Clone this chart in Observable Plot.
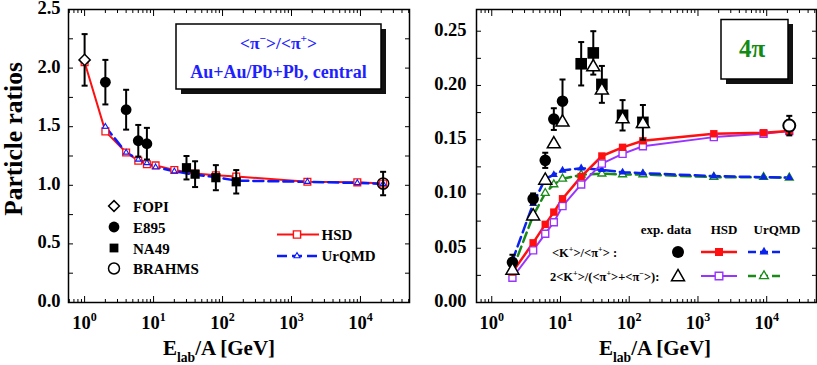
<!DOCTYPE html>
<html><head><meta charset="utf-8">
<script src="https://cdn.jsdelivr.net/npm/d3@7"></script>
<script src="https://cdn.jsdelivr.net/npm/@observablehq/plot@0.6"></script>
<style>
body{margin:0;background:#fff;}
#wrap{position:relative;width:817px;height:365px;overflow:hidden;background:#fff;}
#wrap svg{position:absolute;top:0;overflow:visible;}
</style></head><body><div id="wrap"></div>
<script>
// ---------------- data: left panel  <pi->/<pi+> ----------------
const L_fopi_x = [1],            L_fopi_y = [2.07],   L_fopi_err = [0.22];
const L_e895_x = [2, 4, 6, 8],   L_e895_y = [1.88, 1.645, 1.38, 1.355], L_e895_err = [0.19, 0.17, 0.135, 0.135];
const L_na49_x = [30, 40, 80, 158], L_na49_y = [1.15, 1.095, 1.065, 1.03], L_na49_err = [0.10, 0.11, 0.107, 0.10];
const L_brahms_x = [21300],      L_brahms_y = [1.015], L_brahms_err = [0.10];
const L_hsd_x = [1, 2, 4, 6, 8, 10.7, 20, 40, 80, 158, 1700, 9000, 21300];
const L_hsd_y = [2.05, 1.46, 1.28, 1.21, 1.18, 1.17, 1.13, 1.10, 1.085, 1.075, 1.03, 1.025, 1.015];
const L_urqmd_x = [2, 4, 6, 8, 10.7, 20, 40, 80, 158, 1700, 9000, 21300];
const L_urqmd_y = [1.50, 1.28, 1.22, 1.19, 1.155, 1.12, 1.09, 1.07, 1.04, 1.03, 1.02, 1.012];

// ---------------- data: right panel  K/pi ----------------
const R_model_x   = [2, 4, 6, 8, 10.7, 20, 40, 80, 158, 1700, 9000, 21300];
const R_hsd_kpi   = [0.028, 0.055, 0.072, 0.0833, 0.0956, 0.116, 0.135, 0.143, 0.149, 0.1555, 0.1564, 0.158];
const R_hsd_2k    = [0.0228, 0.048, 0.0633, 0.074, 0.0888, 0.1088, 0.128, 0.137, 0.144, 0.1524, 0.1555, 0.158];
const R_urqmd_kpi = [0.0387, 0.091, 0.114, 0.1177, 0.1217, 0.1238, 0.1223, 0.120, 0.1192, 0.1165, 0.1155, 0.115];
const R_urqmd_2k  = [0.030, 0.080, 0.1008, 0.1088, 0.114, 0.1177, 0.1187, 0.118, 0.118, 0.1155, 0.1155, 0.115];
const R_ags_x = [2, 4, 6, 8, 10.7], R_ags_y = [0.037, 0.0955, 0.131, 0.169, 0.1855], R_ags_err = [0.007, 0.005, 0.007, 0.01, 0.02];
const R_na49_x = [20, 30, 40, 80, 158], R_na49_y = [0.22, 0.23, 0.201, 0.1725, 0.166], R_na49_err = [0.02, 0.02, 0.017, 0.014, 0.016];
const R_brahms_x = [21300], R_brahms_y = [0.163], R_brahms_err = [0.009];
const R_exp2k_x = [2, 4, 6, 8, 10.7, 30, 40, 80, 158];
const R_exp2k_y = [0.0295, 0.0795, 0.1125, 0.146, 0.166, 0.217, 0.1955, 0.169, 0.1647];

// ---------------- ticks ----------------
const xMajor = [1, 10, 100, 1000, 10000];
const xMinorAll = [];
for (const d of [0.1, 1, 10, 100, 1000, 10000]) for (const m of [2,3,4,5,6,7,8,9]) xMinorAll.push(d * m);
const L_yLabels = [0, 0.5, 1.0, 1.5, 2.0, 2.5];
const L_yTicks  = [0, 0.25, 0.5, 0.75, 1.0, 1.25, 1.5, 1.75, 2.0, 2.25, 2.5];
const R_yLabels = [0, 0.05, 0.10, 0.15, 0.20, 0.25];
const R_yTicks  = [0, 0.025, 0.05, 0.075, 0.10, 0.125, 0.15, 0.175, 0.20, 0.225, 0.25];

const zip = (xs, ys, es) => xs.map((x, i) => ({x, y: ys[i], e: es ? es[i] : 0}));

// ---------------- symbols (r = half size) ----------------
const rOf = s => Math.sqrt(s / Math.PI);
const SYM = {
  circle:  {draw(c, s){ const r = rOf(s); c.moveTo(r, 0); c.arc(0, 0, r, 0, 2*Math.PI); }},
  square:  {draw(c, s){ const r = rOf(s); c.rect(-r, -r, 2*r, 2*r); }},
  diamond: {draw(c, s){ const r = rOf(s); c.moveTo(0,-r); c.lineTo(r,0); c.lineTo(0,r); c.lineTo(-r,0); c.closePath(); }},
  triangle:{draw(c, s){ const r = rOf(s); const h = r*1.1547, b = r*0.5774; c.moveTo(0,-h); c.lineTo(r,b); c.lineTo(-r,b); c.closePath(); }},
  cap:     {draw(c, s){ const r = rOf(s); c.moveTo(-r, 0); c.lineTo(r, 0); }}
};

const FONT = "Liberation Serif, Times New Roman, serif";
const TICKFS = 18.5;

function axes(domain, yTicks, yLabels, yFmt, yPad) {
  const xMinor = xMinorAll.filter(v => v >= domain[0] && v <= domain[1]);
  return [
    Plot.axisX({ticks: xMinor, anchor: "bottom", tickSize: -3, fill: "none", label: null}),
    Plot.axisX({ticks: xMinor, anchor: "top", tickSize: -3, fill: "none", label: null}),
    Plot.axisX({ticks: xMajor, anchor: "bottom", tickSize: -6, fill: "none", label: null}),
    Plot.axisX({ticks: xMajor, anchor: "top", tickSize: -6, fill: "none", label: null}),
    Plot.axisX({ticks: xMajor, anchor: "bottom", tickSize: 0, tickPadding: 13, label: null,
      tickFormat: d => "10^" + Math.round(Math.log10(d)), fontSize: TICKFS, fontWeight: "bold"}),
    Plot.axisY({ticks: yTicks, anchor: "left", tickSize: -5, fill: "none", label: null}),
    Plot.axisY({ticks: yTicks, anchor: "right", tickSize: -5, fill: "none", label: null}),
    Plot.axisY({ticks: yLabels, anchor: "left", tickSize: 0, tickPadding: yPad, label: null,
      tickFormat: yFmt, fontSize: TICKFS, fontWeight: "bold", dy: -1.5}),
    Plot.frame({strokeWidth: 1.5})
  ];
}

function errMarks(data, capR) {
  return [
    Plot.ruleX(data, {x: "x", y1: d => d.y - d.e, y2: d => d.y + d.e, stroke: "black", strokeWidth: 2}),
    Plot.dot(data, {x: "x", y: d => d.y - d.e, symbol: SYM.cap, r: capR, stroke: "black", strokeWidth: 2}),
    Plot.dot(data, {x: "x", y: d => d.y + d.e, symbol: SYM.cap, r: capR, stroke: "black", strokeWidth: 2})
  ];
}

const style = {fontFamily: FONT, fontWeight: "bold", background: "transparent", color: "black"};

// ---------------- left plot ----------------
const fopi = zip(L_fopi_x, L_fopi_y, L_fopi_err);
const e895 = zip(L_e895_x, L_e895_y, L_e895_err);
const na49L = zip(L_na49_x, L_na49_y, L_na49_err);
const brahmsL = zip(L_brahms_x, L_brahms_y, L_brahms_err);
const hsdL = zip(L_hsd_x, L_hsd_y);
const urqL = zip(L_urqmd_x, L_urqmd_y);
const L_xDomain = [0.584, 51400];

const left = Plot.plot({
  width: 410, height: 365,
  marginLeft: 68, marginRight: 1, marginTop: 9, marginBottom: 63,
  x: {type: "log", domain: L_xDomain},
  y: {domain: [0, 2.5]},
  style,
  marks: [
    Plot.line(hsdL, {x: "x", y: "y", stroke: "#ff1010", strokeWidth: 2}),
    Plot.line(urqL, {x: "x", y: "y", stroke: "#0a1aff", strokeWidth: 2.5, strokeDasharray: "10,5"}),
    Plot.dot(hsdL, {x: "x", y: "y", symbol: SYM.square, r: 3.4, fill: "white", stroke: "#ff1010", strokeWidth: 1.3}),
    Plot.dot(urqL, {x: "x", y: "y", symbol: SYM.triangle, r: 2.8, fill: "white", stroke: "#0a1aff", strokeWidth: 1.1}),
    ...errMarks([...fopi, ...e895, ...na49L, ...brahmsL], 3),
    Plot.dot(fopi, {x: "x", y: "y", symbol: SYM.diamond, r: 5.6, fill: "white", stroke: "black", strokeWidth: 1.5}),
    Plot.dot(e895, {x: "x", y: "y", symbol: SYM.circle, r: 5.4, fill: "black"}),
    Plot.dot(na49L, {x: "x", y: "y", symbol: SYM.square, r: 4.6, fill: "black"}),
    Plot.dot(brahmsL, {x: "x", y: "y", symbol: SYM.circle, r: 5.6, fill: "none", stroke: "black", strokeWidth: 1.5}),
    ...axes(L_xDomain, L_yTicks, L_yLabels, d => d.toFixed(1), 8)
  ]
});

// ---------------- right plot ----------------
const hsdK = zip(R_model_x, R_hsd_kpi), hsd2 = zip(R_model_x, R_hsd_2k);
const urqK = zip(R_model_x, R_urqmd_kpi), urq2 = zip(R_model_x, R_urqmd_2k);
const ags = zip(R_ags_x, R_ags_y, R_ags_err);
const na49R = zip(R_na49_x, R_na49_y, R_na49_err);
const brahmsR = zip(R_brahms_x, R_brahms_y, R_brahms_err);
const exp2k = zip(R_exp2k_x, R_exp2k_y);
const R_xDomain = [0.6, 53000];

const C_RED = "#ff1010", C_PUR = "#9933ff", C_BLUE = "#0a22ee", C_GREEN = "#1a8a1a";

const right = Plot.plot({
  width: 407, height: 365,
  marginLeft: 66, marginRight: 1, marginTop: 9, marginBottom: 63,
  x: {type: "log", domain: R_xDomain},
  y: {domain: [0, 0.27]},
  style,
  marks: [
    Plot.line(urq2, {x: "x", y: "y", stroke: C_GREEN, strokeWidth: 2.5, strokeDasharray: "10,5"}),
    Plot.line(urqK, {x: "x", y: "y", stroke: C_BLUE, strokeWidth: 2.5, strokeDasharray: "10,5"}),
    Plot.line(hsd2, {x: "x", y: "y", stroke: C_PUR, strokeWidth: 2}),
    Plot.line(hsdK, {x: "x", y: "y", stroke: C_RED, strokeWidth: 2.5}),
    Plot.dot(urq2, {x: "x", y: "y", symbol: SYM.triangle, r: 4, fill: "white", stroke: C_GREEN, strokeWidth: 1.3}),
    Plot.dot(urqK, {x: "x", y: "y", symbol: SYM.triangle, r: 4, fill: C_BLUE}),
    Plot.dot(hsd2, {x: "x", y: "y", symbol: SYM.square, r: 3.5, fill: "white", stroke: C_PUR, strokeWidth: 1.4}),
    Plot.dot(hsdK, {x: "x", y: "y", symbol: SYM.square, r: 3.7, fill: C_RED}),
    ...errMarks([...ags, ...na49R, ...brahmsR], 3),
    Plot.dot(ags, {x: "x", y: "y", symbol: SYM.circle, r: 5.8, fill: "black"}),
    Plot.dot(na49R, {x: "x", y: "y", symbol: SYM.square, r: 5.8, fill: "black"}),
    Plot.dot(brahmsR, {x: "x", y: "y", symbol: SYM.circle, r: 6, fill: "white", stroke: "black", strokeWidth: 2}),
    Plot.dot(exp2k, {x: "x", y: "y", symbol: SYM.triangle, r: 6.5, fill: "white", stroke: "black", strokeWidth: 1.5}),
    ...axes(R_xDomain, R_yTicks, R_yLabels, d => d.toFixed(2), 10)
  ]
});

const wrap = document.getElementById("wrap");
left.style.left = "0px";
right.style.left = "410px";
wrap.appendChild(left);
wrap.appendChild(right);

// superscripts on decade tick labels
for (const svg of [left, right]) {
  d3.select(svg).selectAll('g[aria-label="x-axis tick label"] text').each(function() {
    const t = this.textContent;
    const m = /^10\^(-?\d+)$/.exec(t);
    if (!m) return;
    const sel = d3.select(this);
    sel.text(null);
    sel.append("tspan").text("10");
    sel.append("tspan").attr("dy", -8).attr("font-size", 12).text(m[1]);
  });
}

// rich text helper: parts = [text | {sup:..} | {sub:..}]
function rich(g, x, y, parts, fs, attrs = {}) {
  const t = g.append("text").attr("x", x).attr("y", y)
    .attr("font-family", FONT).attr("font-weight", "bold").attr("font-size", fs)
    .attr("text-anchor", "start").attr("fill", "black");
  for (const [k, v] of Object.entries(attrs)) t.attr(k, v);
  let shift = 0;
  for (const p of parts) {
    const s = t.append("tspan");
    if (typeof p === "string") { s.attr("dy", -shift).text(p); shift = 0; }
    else if (p.sup != null) { const d = -0.42 * fs; s.attr("dy", d - shift).attr("font-size", fs * 0.65).text(p.sup); shift = d; }
    else if (p.sub != null) { const d = 0.32 * fs; s.attr("dy", d - shift).attr("font-size", fs * 0.65).text(p.sub); shift = d; }
  }
  return t;
}
function symPath(sym, r) { const p = d3.path(); sym.draw(p, Math.PI * r * r); return p.toString(); }

// ---------------- left annotations ----------------
{
  const g = d3.select(left).append("g");
  rich(g, 0, 0, ["Particle ratios"], 25.5, {"text-anchor": "middle", transform: "translate(22,139) rotate(-90)"});
  rich(g, 219, 355, ["E", {sub: "lab"}, "/A [GeV]"], 21, {"text-anchor": "middle"});
  // inset box
  g.append("rect").attr("x", 181).attr("y", 29).attr("width", 205).attr("height", 65).attr("fill", "#111");
  g.append("rect").attr("x", 176).attr("y", 24).attr("width", 205).attr("height", 65).attr("fill", "white").attr("stroke", "black").attr("stroke-width", 1.5);
  rich(g, 278.5, 49, ["<π", {sup: "−"}, ">/<π", {sup: "+"}, ">"], 17.5, {"text-anchor": "middle", fill: "#1f1fff"});
  rich(g, 278.5, 78, ["Au+Au/Pb+Pb, central"], 18, {"text-anchor": "middle", fill: "#1f1fff"});
  // exp legend
  const exps = [
    ["FOPI", SYM.diamond, 5.4, "white", "black"],
    ["E895", SYM.circle, 5.4, "black", "none"],
    ["NA49", SYM.square, 4.4, "black", "none"],
    ["BRAHMS", SYM.circle, 5.5, "white", "black"]
  ];
  const rowsY = [206, 227, 248, 268.5];
  exps.forEach(([name, sym, r, fill, stroke], i) => {
    g.append("path").attr("d", symPath(sym, r)).attr("transform", `translate(114,${rowsY[i]})`)
      .attr("fill", fill).attr("stroke", stroke).attr("stroke-width", 1.5);
    rich(g, 133, rowsY[i] + 5.5, [name], 15);
  });
  // model legend
  g.append("line").attr("x1", 277).attr("x2", 319).attr("y1", 234.5).attr("y2", 234.5).attr("stroke", "#ff1010").attr("stroke-width", 2);
  g.append("path").attr("d", symPath(SYM.square, 3.6)).attr("transform", "translate(297,234.5)").attr("fill", "white").attr("stroke", "#ff1010").attr("stroke-width", 1.4);
  rich(g, 321.5, 240, ["HSD"], 15);
  g.append("line").attr("x1", 277).attr("x2", 319).attr("y1", 256).attr("y2", 256).attr("stroke", "#0a1aff").attr("stroke-width", 2.5).attr("stroke-dasharray", "10,5");
  g.append("path").attr("d", symPath(SYM.triangle, 3)).attr("transform", "translate(297,256)").attr("fill", "white").attr("stroke", "#0a1aff").attr("stroke-width", 1.1);
  rich(g, 321.5, 261, ["UrQMD"], 15);
}

// ---------------- right annotations ----------------
{
  const g = d3.select(right).append("g");
  rich(g, 245, 355, ["E", {sub: "lab"}, "/A [GeV]"], 21, {"text-anchor": "middle"});
  g.append("rect").attr("x", 316).attr("y", 24).attr("width", 67).attr("height", 60).attr("fill", "#111");
  g.append("rect").attr("x", 311).attr("y", 19.5).attr("width", 67).attr("height", 59.5).attr("fill", "white").attr("stroke", "black").attr("stroke-width", 1.5);
  rich(g, 342, 57, ["4π"], 25, {"text-anchor": "middle", fill: "#138a13"});
  // legend header
  rich(g, 256, 234, ["exp. data"], 13, {"text-anchor": "middle"});
  rich(g, 314, 234, ["HSD"], 13, {"text-anchor": "middle"});
  rich(g, 367, 234, ["UrQMD"], 13, {"text-anchor": "middle"});
  // row 1
  rich(g, 142, 257, ["<K", {sup: "+"}, ">/<π", {sup: "+"}, "> :"], 12.5);
  g.append("path").attr("d", symPath(SYM.circle, 6)).attr("transform", "translate(268,252)").attr("fill", "black");
  g.append("line").attr("x1", 291).attr("x2", 327).attr("y1", 252).attr("y2", 252).attr("stroke", C_RED).attr("stroke-width", 2.5);
  g.append("path").attr("d", symPath(SYM.square, 4)).attr("transform", "translate(309,252)").attr("fill", C_RED);
  g.append("line").attr("x1", 338).attr("x2", 371).attr("y1", 252).attr("y2", 252).attr("stroke", C_BLUE).attr("stroke-width", 2.5).attr("stroke-dasharray", "8,4");
  g.append("path").attr("d", symPath(SYM.triangle, 4.5)).attr("transform", "translate(354,252)").attr("fill", C_BLUE);
  // row 2
  rich(g, 140, 281, ["2<K", {sup: "+"}, ">/(<π", {sup: "+"}, ">+<π", {sup: "−"}, ">):"], 12.5);
  g.append("path").attr("d", symPath(SYM.triangle, 6.5)).attr("transform", "translate(268,277)").attr("fill", "white").attr("stroke", "black").attr("stroke-width", 1.5);
  g.append("line").attr("x1", 291).attr("x2", 327).attr("y1", 276).attr("y2", 276).attr("stroke", C_PUR).attr("stroke-width", 2);
  g.append("path").attr("d", symPath(SYM.square, 3.8)).attr("transform", "translate(309,276)").attr("fill", "white").attr("stroke", C_PUR).attr("stroke-width", 1.4);
  g.append("line").attr("x1", 338).attr("x2", 371).attr("y1", 276).attr("y2", 276).attr("stroke", C_GREEN).attr("stroke-width", 2.5).attr("stroke-dasharray", "8,4");
  g.append("path").attr("d", symPath(SYM.triangle, 4.5)).attr("transform", "translate(354,276)").attr("fill", "white").attr("stroke", C_GREEN).attr("stroke-width", 1.3);
}
</script>
</body></html>
